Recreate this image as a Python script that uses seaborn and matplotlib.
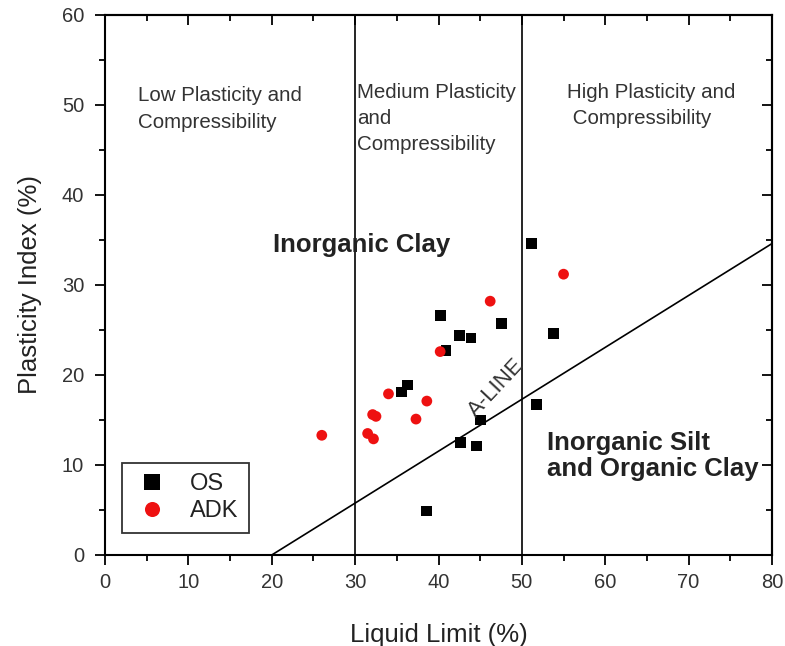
import matplotlib
matplotlib.use("Agg")
import matplotlib.pyplot as plt
import seaborn as sns
import pandas as pd
import numpy as np
from matplotlib.ticker import MultipleLocator

# Data
os_ll = [51.2, 40.2, 47.6, 42.5, 43.9, 53.8, 40.9, 36.3, 35.6, 51.8, 45.0, 42.6, 44.6, 38.6]
os_pi = [34.6, 26.6, 25.7, 24.4, 24.1, 24.6, 22.7, 18.9, 18.1, 16.7, 15.0, 12.5, 12.1, 4.9]
adk_ll = [26.0, 46.2, 55.0, 40.2, 34.0, 38.6, 32.1, 32.5, 37.3, 31.5, 32.2]
adk_pi = [13.3, 28.2, 31.2, 22.6, 17.9, 17.1, 15.6, 15.4, 15.1, 13.5, 12.9]
aline_ll = [20, 80]
aline_pi = [0, 34.6]
boundaries = [30, 50]

df = pd.DataFrame({
    "LL": os_ll + adk_ll,
    "PI": os_pi + adk_pi,
    "Soil": ["OS"] * len(os_ll) + ["ADK"] * len(adk_ll),
})

sns.set_style("ticks")
plt.rcParams["font.family"] = ["Liberation Sans", "DejaVu Sans"]

fig = plt.figure(figsize=(7.85, 6.46), dpi=100)
ax = fig.add_axes([0.1338, 0.1409, 0.8496, 0.8359])

sns.scatterplot(data=df, x="LL", y="PI", hue="Soil", style="Soil",
                palette={"OS": "black", "ADK": "#ee1111"},
                markers={"OS": "s", "ADK": "o"}, s=60, linewidth=0,
                ax=ax, zorder=3)

ax.plot(aline_ll, aline_pi, color="black", lw=1.2, zorder=2)
for b in boundaries:
    ax.axvline(b, color="black", lw=1.2, zorder=2)

ax.set_xlim(0, 80)
ax.set_ylim(0, 60)
ax.xaxis.set_major_locator(MultipleLocator(10))
ax.xaxis.set_minor_locator(MultipleLocator(5))
ax.yaxis.set_major_locator(MultipleLocator(10))
ax.yaxis.set_minor_locator(MultipleLocator(5))

for sp in ax.spines.values():
    sp.set_visible(True)
    sp.set_linewidth(1.5)
    sp.set_color("black")

ax.tick_params(which="both", direction="out", bottom=True, left=True, top=False, right=False,
               color="black", width=1.3)
ax.tick_params(which="major", length=7, labelsize=14.5, labelcolor="#333333", pad=6)
ax.tick_params(which="minor", length=4)
ax.tick_params(axis="y", which="major", pad=8)

# mirrored inward ticks on top and right
axt = ax.secondary_xaxis("top")
axt.xaxis.set_major_locator(MultipleLocator(10))
axt.xaxis.set_minor_locator(MultipleLocator(5))
axt.tick_params(which="both", direction="in", labeltop=False, width=1.3, color="black")
axt.tick_params(which="major", length=7)
axt.tick_params(which="minor", length=4)
axt.spines["top"].set_linewidth(1.5)
axr = ax.secondary_yaxis("right")
axr.yaxis.set_major_locator(MultipleLocator(10))
axr.yaxis.set_minor_locator(MultipleLocator(5))
axr.tick_params(which="both", direction="in", labelright=False, width=1.3, color="black")
axr.tick_params(which="major", length=7)
axr.tick_params(which="minor", length=4)
axr.spines["right"].set_linewidth(1.5)

ax.set_xlabel("Liquid Limit (%)", fontsize=18.5, color="#222222", labelpad=22)
ax.set_ylabel("Plasticity Index (%)", fontsize=18.5, color="#222222", labelpad=14)

tc = "#333333"
ax.text(4.0, 52.1, "Low Plasticity and\nCompressibility", fontsize=14.8, color=tc,
        va="top", ha="left", linespacing=1.55)
ax.text(30.2, 52.4, "Medium Plasticity\nand\nCompressibility", fontsize=14.8, color=tc,
        va="top", ha="left", linespacing=1.45)
ax.text(55.4, 52.4, "High Plasticity and\n Compressibility", fontsize=14.8, color=tc,
        va="top", ha="left", linespacing=1.45)
ax.text(20.2, 34.4, "Inorganic Clay", fontsize=18.5, fontweight="bold", color="#222222",
        va="center", ha="left")
ax.text(53.0, 11.0, "Inorganic Silt\nand Organic Clay", fontsize=18.5, fontweight="bold",
        color="#222222", va="center", ha="left", linespacing=1.15)
ax.text(47.0, 18.6, "A-LINE", fontsize=16, color=tc, rotation=47,
        va="center", ha="center", rotation_mode="anchor")

leg = ax.legend(loc="lower left", bbox_to_anchor=(0.026, 0.041), borderaxespad=0,
                fontsize=17, frameon=True, fancybox=False, markerscale=1.4,
                handletextpad=0.8, borderpad=0.45, labelspacing=0.2, handlelength=1.6)
leg.get_frame().set_edgecolor("black")
leg.get_frame().set_linewidth(1.3)
leg.set_title(None)
for t in leg.get_texts():
    t.set_color("#222222")

fig.savefig("out.png", dpi=100)
